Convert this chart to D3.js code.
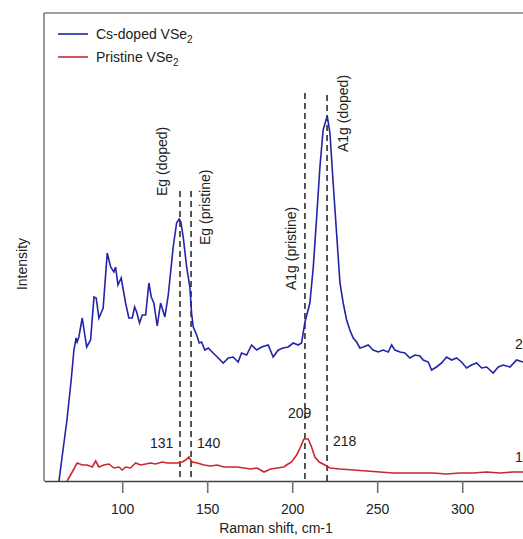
<!DOCTYPE html>
<html>
<head>
<meta charset="utf-8">
<script src="https://cdn.jsdelivr.net/npm/d3@7"></script>
<style>
  body { margin: 0; background: #fff; }
  text { font-family: Arial, "Liberation Sans", sans-serif; fill: #222; }
</style>
</head>
<body>
<div id="chart"></div>
<script>
// Raman shift (cm-1) and intensity (arb. units)
const dopedShift = [62.8, 67.5, 70.0, 71.6, 72.9, 73.5, 74.5, 76.5, 79.1, 81.4, 83.4, 84.7, 86.3, 88.8, 91.2, 93.2, 95.1, 96.1, 97.5, 99.4,
  102.0, 103.9, 105.9, 107.3, 108.5, 110.2, 111.8, 113.8, 115.7, 117.1, 118.6, 120.6, 122.6, 125.1, 127.1, 130.0, 132.0, 133.5, 134.5, 135.9,
  137.9, 139.8, 140.8, 141.8, 143.8, 145.3, 146.7, 148.6, 150.6, 153.5, 156.5, 159.4, 162.4, 165.3, 168.2, 170.2, 173.2, 176.1, 179.1, 182.0,
  185.9, 188.8, 191.8, 194.7, 197.6, 200.6, 203.5, 205.5, 207.5, 210.4, 212.4, 214.4, 216.3, 218.2, 220.6, 222.2, 224.1, 226.1, 228.1, 230.0,
  232.0, 233.9, 235.9, 237.9, 239.8, 241.8, 244.7, 247.6, 250.6, 253.5, 256.5, 258.5, 260.4, 263.4, 266.3, 269.2, 272.2, 275.1, 277.1, 280.0,
  282.0, 284.9, 287.9, 290.8, 293.8, 296.7, 299.6, 302.6, 305.5, 308.5, 311.4, 314.4, 318.2, 321.2, 324.1, 328.1, 332.0, 335.7, 340.0];
const dopedIntensity = [0, 61, 101, 131, 143, 139, 144, 163, 134, 141, 184, 183, 163, 173, 228, 214, 209, 214, 196, 203,
  178, 163, 163, 174, 169, 158, 166, 166, 198, 184, 178, 155, 178, 164, 186, 234, 258, 262, 259, 244,
  214, 194, 168, 154, 146, 138, 139, 131, 133, 128, 123, 118, 123, 124, 119, 128, 126, 136, 131, 134,
  136, 124, 131, 133, 134, 138, 136, 138, 159, 178, 214, 264, 314, 351, 365, 348, 298, 248, 198, 178,
  161, 151, 143, 139, 133, 134, 136, 131, 129, 131, 129, 136, 131, 129, 128, 123, 126, 125, 121, 119,
  111, 114, 118, 124, 121, 123, 119, 113, 116, 118, 113, 114, 108, 114, 116, 114, 121, 119, 118];

const pristineShift = [67.6, 70.6, 73.5, 76.5, 79.4, 82.4, 84.4, 86.3, 89.2, 92.2, 95.1, 98.1, 100.0, 102.0, 104.9, 107.9, 110.8, 113.8, 116.7, 119.6,
  123.5, 126.5, 129.4, 132.4, 135.3, 137.3, 139.2, 141.2, 144.1, 148.1, 152.0, 155.9, 159.8, 163.8, 167.7, 171.6, 175.5, 179.4, 183.4, 187.3,
  191.2, 195.1, 196.7, 199.6, 202.6, 204.9, 206.9, 209.4, 211.4, 213.3, 215.9, 219.2, 222.2, 228.1, 235.9, 243.8, 251.6, 259.4, 267.3, 275.1,
  282.9, 290.8, 298.6, 306.4, 314.3, 322.1, 329.9, 335.7, 340.0];
const pristineIntensity = [0, 9, 18, 16, 16, 14, 20, 14, 16, 17, 13, 14, 11, 14, 13, 18, 16, 17, 18, 17,
  19, 18, 18, 18, 19, 21, 24, 19, 18, 16, 15, 16, 14, 14, 14, 13, 12, 13, 9, 12,
  13, 14, 16, 19, 26, 34, 42, 42, 34, 24, 19, 16, 13, 12, 11, 10, 9, 8, 8, 8,
  8, 7, 8, 8, 9, 8, 9, 9, 9];

const seriesNames = ["Cs-doped VSe", "Pristine VSe"];
const seriesColors = ["#2323a8", "#c8282d"];

// peak markers: line position, line top (intensity), rotated label
const peakPos = [134, 140.5, 207.5, 220.5];
const peakTop = [290, 290, 388, 386];
const peakNames = ["Eg (doped)", "Eg (pristine)", "A1g (pristine)", "A1g (doped)"];

// peak numbers printed next to pristine spectrum
const peakNumbers = ["131", "140", "209", "218"];

const xTicks = [100, 150, 200, 250, 300];

const width = 523, height = 539;
const margin = { top: 13, right: -8, bottom: 58, left: 44 };

const svg = d3.select("#chart").append("svg")
  .attr("width", width)
  .attr("height", height);

const x = d3.scaleLinear()
  .domain([54, 340])
  .range([margin.left, margin.left + 286 * 1.7]);

const y = d3.scaleLinear()
  .domain([0, 468])
  .range([height - margin.bottom, margin.top]);

const plotBottom = height - margin.bottom;

svg.append("clipPath").attr("id", "plotclip")
  .append("rect")
  .attr("x", margin.left).attr("y", margin.top)
  .attr("width", width - margin.left).attr("height", plotBottom - margin.top);

// frame (left + top)
svg.append("line")
  .attr("x1", margin.left).attr("x2", margin.left)
  .attr("y1", margin.top).attr("y2", plotBottom)
  .attr("stroke", "#808080").attr("stroke-width", 1.6);
svg.append("line")
  .attr("x1", margin.left).attr("x2", width)
  .attr("y1", margin.top).attr("y2", margin.top)
  .attr("stroke", "#808080").attr("stroke-width", 1.6);

// x axis
const xAxis = svg.append("g")
  .attr("transform", `translate(0,${plotBottom})`)
  .call(d3.axisBottom(x).tickValues(xTicks).tickSize(12).tickSizeOuter(0).tickPadding(11));
xAxis.select(".domain").attr("stroke", "#404040").attr("stroke-width", 1.6);
xAxis.selectAll(".tick line").attr("stroke", "#707070").attr("stroke-width", 1.6);
xAxis.selectAll(".tick text")
  .style("font-family", "Arial, 'Liberation Sans', sans-serif")
  .style("font-size", "14px")
  .attr("fill", "#222");

svg.append("text")
  .attr("x", 276).attr("y", 533)
  .attr("text-anchor", "middle")
  .style("font-size", "14px")
  .text("Raman shift, cm-1");

svg.append("text")
  .attr("transform", "translate(27,264) rotate(-90)")
  .attr("text-anchor", "middle")
  .style("font-size", "14px")
  .text("Intensity");

// dashed peak lines
svg.selectAll(".peak-line")
  .data(peakPos)
  .enter()
  .append("line")
  .attr("class", "peak-line")
  .attr("x1", d => x(d)).attr("x2", d => x(d))
  .attr("y1", (d, i) => y(peakTop[i]))
  .attr("y2", plotBottom)
  .attr("stroke", "#111")
  .attr("stroke-width", 1.4)
  .attr("stroke-dasharray", "6,4");

// spectra
const line = d3.line()
  .x(d => x(d[0]))
  .y(d => y(d[1]));

const plot = svg.append("g").attr("clip-path", "url(#plotclip)");

plot.append("path")
  .datum(pristineShift.map((s, i) => [s, pristineIntensity[i]]))
  .attr("d", line)
  .attr("fill", "none")
  .attr("stroke", seriesColors[1])
  .attr("stroke-width", 1.6);

plot.append("path")
  .datum(dopedShift.map((s, i) => [s, dopedIntensity[i]]))
  .attr("d", line)
  .attr("fill", "none")
  .attr("stroke", seriesColors[0])
  .attr("stroke-width", 1.6);

// rotated peak labels
const labelPos = [[166.5, 196], [209.5, 245], [296, 290], [347.5, 152]];
svg.selectAll(".peak-label")
  .data(peakNames)
  .enter()
  .append("text")
  .attr("class", "peak-label")
  .attr("transform", (d, i) => `translate(${labelPos[i][0]},${labelPos[i][1]}) rotate(-90)`)
  .style("font-size", "14px")
  .text(d => d);

// peak numbers
const numberPos = [[150, 448], [197, 448], [288, 418], [333, 446]];
svg.selectAll(".peak-num")
  .data(peakNumbers)
  .enter()
  .append("text")
  .attr("class", "peak-num")
  .attr("x", (d, i) => numberPos[i][0])
  .attr("y", (d, i) => numberPos[i][1])
  .style("font-size", "14px")
  .text(d => d);

// clipped series tags at right edge
svg.append("text").attr("x", 515).attr("y", 349).style("font-size", "14px").text("2");
svg.append("text").attr("x", 515).attr("y", 462).style("font-size", "14px").text("1");

// legend
const legend = svg.append("g");
seriesNames.forEach((name, i) => {
  const ly = 34 + i * 23;
  legend.append("line")
    .attr("x1", 58).attr("x2", 88)
    .attr("y1", ly).attr("y2", ly)
    .attr("stroke", seriesColors[i])
    .attr("stroke-width", 1.6);
  const t = legend.append("text")
    .attr("x", 96).attr("y", ly + 5)
    .style("font-size", "14px");
  t.append("tspan").text(name);
  t.append("tspan").attr("dy", 4).style("font-size", "10px").text("2");
});
</script>
</body>
</html>
